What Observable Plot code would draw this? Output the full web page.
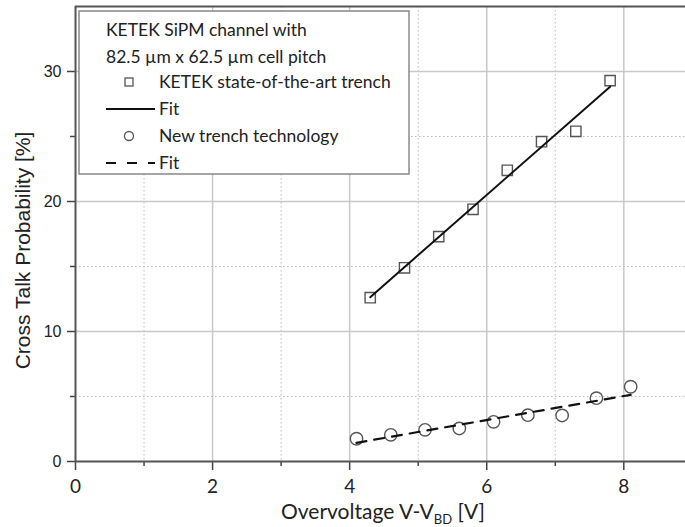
<!DOCTYPE html>
<html>
<head>
<meta charset="utf-8">
<script src="https://cdn.jsdelivr.net/npm/d3@7"></script>
<script src="https://cdn.jsdelivr.net/npm/@observablehq/plot@0.6"></script>
<style>
  html, body { margin: 0; padding: 0; background: #fff; }
  #chart svg { display: block; }
</style>
</head>
<body>
<div id="chart"></div>
<script>
// Overvoltage [V] and cross-talk probability [%] for the two trench variants
const stateOfArtX = [4.3, 4.8, 5.3, 5.8, 6.3, 6.8, 7.3, 7.8];
const stateOfArtY = [12.6, 14.9, 17.3, 19.4, 22.4, 24.6, 25.4, 29.3];
const newTrenchX = [4.1, 4.6, 5.1, 5.6, 6.1, 6.6, 7.1, 7.6, 8.1];
const newTrenchY = [1.75, 2.05, 2.44, 2.54, 3.05, 3.56, 3.54, 4.87, 5.75];

const xMajor = [0, 2, 4, 6, 8];
const xMinor = [1, 3, 5, 7];
const yMajor = [0, 10, 20, 30];
const yMinor = [5, 15, 25];

const legendTitle = ["KETEK SiPM channel with", "82.5 µm x 62.5 µm cell pitch"];
const legendItems = ["KETEK state-of-the-art trench", "Fit", "New trench technology", "Fit"];

const stateOfArt = stateOfArtX.map((x, i) => ({x, y: stateOfArtY[i]}));
const newTrench = newTrenchX.map((x, i) => ({x, y: newTrenchY[i]}));

const labelFont = "Lato, 'Open Sans', sans-serif";
const arialFont = "'Liberation Sans', Arial, sans-serif";

const W = 685, H = 527;
const chart = Plot.plot({
  width: W,
  height: H,
  marginLeft: 75,
  marginRight: 0,
  marginTop: 6,
  marginBottom: 66,
  style: {background: "#fff", overflow: "visible"},
  x: {domain: [0, 8.9]},
  y: {domain: [0, 35]},
  marks: [
    // minor grid (dotted) and major grid (solid)
    Plot.gridX(xMinor, {stroke: "#bbb", strokeOpacity: 1, strokeDasharray: "1.5,2.5"}),
    Plot.gridY(yMinor, {stroke: "#bbb", strokeOpacity: 1, strokeDasharray: "1.5,2.5"}),
    Plot.gridX(xMajor.slice(1), {stroke: "#c8c8c8", strokeOpacity: 1, strokeWidth: 1.5}),
    Plot.gridY(yMajor.slice(1), {stroke: "#c8c8c8", strokeOpacity: 1, strokeWidth: 1.5}),
    // axes
    Plot.axisX(xMajor, {tickSize: 9, tickPadding: 9, fontSize: 19, fontFamily: labelFont, fill: "#222", stroke: "#444", strokeWidth: 1.5, label: null}),
    Plot.axisX(xMinor, {tickSize: 5, text: null, stroke: "#444", strokeWidth: 1.5, label: null}),
    Plot.axisY(yMajor, {tickSize: 8, tickPadding: 6, fontSize: 16, fontFamily: arialFont, fill: "#222", stroke: "#444", strokeWidth: 1.5, label: null}),
    Plot.axisY(yMinor, {tickSize: 5, text: null, stroke: "#444", strokeWidth: 1.5, label: null}),
    Plot.ruleX([0], {stroke: "#555", strokeWidth: 2}),
    Plot.ruleY([0], {stroke: "#555", strokeWidth: 2}),
    Plot.ruleY([35], {stroke: "#555", strokeWidth: 2}),
    // measurements
    Plot.dot(stateOfArt, {x: "x", y: "y", symbol: "square", r: 5.8, stroke: "#555", strokeWidth: 1.4, fill: "none"}),
    Plot.dot(newTrench, {x: "x", y: "y", symbol: "circle", r: 6.2, stroke: "#555", strokeWidth: 1.4, fill: "none"}),
    // least-squares fits
    Plot.linearRegressionY(stateOfArt, {x: "x", y: "y", ci: 0, stroke: "#111", strokeWidth: 2}),
    Plot.linearRegressionY(newTrench, {x: "x", y: "y", ci: 0, stroke: "#111", strokeWidth: 2.2, strokeDasharray: "10,8"})
  ]
});

const svg = d3.select(chart);

// axis titles
const xt = svg.append("text")
  .attr("x", 383).attr("y", 519)
  .attr("text-anchor", "middle")
  .attr("font-family", labelFont).attr("font-size", 21).attr("fill", "#222");
xt.append("tspan").text("Overvoltage V-V");
xt.append("tspan").attr("font-size", 13).attr("dy", 5).text("BD");
xt.append("tspan").attr("dy", -5).text(" [V]");

svg.append("text")
  .attr("transform", "translate(30,250.5) rotate(-90)")
  .attr("text-anchor", "middle")
  .attr("font-family", arialFont).attr("font-size", 21).attr("fill", "#222")
  .text("Cross Talk Probability [%]");

// legend
const lg = svg.append("g").attr("text-anchor", "start");
lg.append("rect").attr("x", 79).attr("y", 11).attr("width", 330).attr("height", 163)
  .attr("fill", "#fff").attr("stroke", "#888").attr("stroke-width", 1.5);
const rowY = [30, 57, 82, 109, 136, 163];
legendTitle.forEach((t, i) => {
  lg.append("text").attr("x", 106).attr("y", rowY[i]).attr("dy", "0.35em")
    .attr("text-anchor", "start")
    .attr("font-family", labelFont).attr("font-size", 17.5).attr("fill", "#222").text(t);
});
legendItems.forEach((t, i) => {
  lg.append("text").attr("x", 159).attr("y", rowY[i + 2]).attr("dy", "0.35em")
    .attr("text-anchor", "start")
    .attr("font-family", labelFont).attr("font-size", 17.5).attr("fill", "#222").text(t);
});
lg.append("rect").attr("x", 125).attr("y", rowY[2] - 4).attr("width", 8).attr("height", 8)
  .attr("fill", "none").attr("stroke", "#555").attr("stroke-width", 1.3);
lg.append("line").attr("x1", 106).attr("x2", 155).attr("y1", rowY[3]).attr("y2", rowY[3])
  .attr("stroke", "#111").attr("stroke-width", 2);
lg.append("circle").attr("cx", 129).attr("cy", rowY[4]).attr("r", 4.5)
  .attr("fill", "none").attr("stroke", "#555").attr("stroke-width", 1.3);
lg.append("line").attr("x1", 106).attr("x2", 155).attr("y1", rowY[5]).attr("y2", rowY[5])
  .attr("stroke", "#111").attr("stroke-width", 2).attr("stroke-dasharray", "10,11");

document.getElementById("chart").appendChild(chart);
</script>
</body>
</html>
